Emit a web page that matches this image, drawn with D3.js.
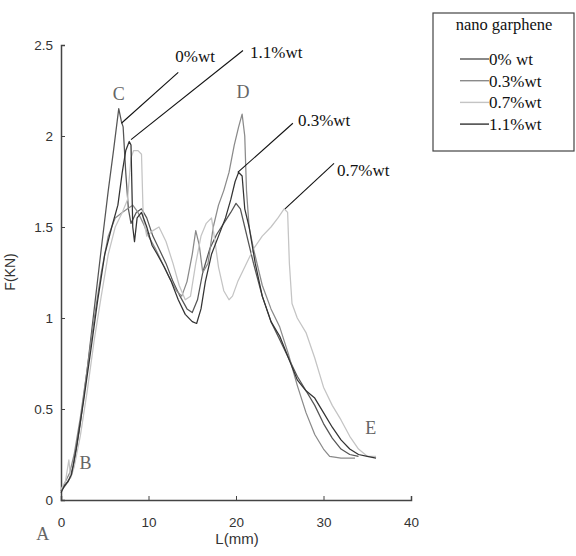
<!DOCTYPE html>
<html><head><meta charset="utf-8">
<script src="https://cdn.jsdelivr.net/npm/d3@7"></script>
<style>body{margin:0;background:#fff;} svg{display:block;}</style>
</head><body>
<script>
const seriesNames = ["0% wt", "0.3%wt", "0.7%wt", "1.1%wt"];
const legendTitle = "nano garphene";
const xTicks = [0, 10, 20, 30, 40];
const yTicks = [0, 0.5, 1, 1.5, 2, 2.5];

const x0 = [0,0.5,1.0,1.5,2.2,3.0,3.8,4.6,5.4,6.0,6.6,6.9,7.1,7.4,7.7,8.0,8.6,9.2,9.8,10.5,11.2,12.0,12.8,13.6,14.4,15.0,15.6,16.2,17.0,17.8,18.6,19.4,20.0,20.5,21.0,22.0,23.0,24.0,25.0,26.0,27.0,28.0,29.0,30.0,31.0,32.0,33.0,34.0];
const y0 = [0.05,0.08,0.12,0.2,0.42,0.72,1.05,1.38,1.7,1.92,2.15,2.08,2.05,1.8,1.6,1.52,1.58,1.6,1.55,1.45,1.38,1.3,1.2,1.12,1.05,1.03,1.1,1.25,1.38,1.46,1.52,1.58,1.63,1.6,1.5,1.3,1.12,0.98,0.88,0.78,0.68,0.6,0.52,0.42,0.34,0.28,0.25,0.24];

const x03 = [0,0.5,1.0,1.5,2.2,3.0,3.8,4.6,5.4,6.2,7.0,7.6,8.2,8.8,9.4,10.0,10.8,11.6,12.4,13.2,13.8,14.4,15.0,15.4,15.8,16.2,16.8,17.4,18.0,18.6,19.2,19.8,20.3,20.7,21.0,21.2,21.5,22.0,23.0,24.0,25.0,26.0,27.0,28.0,29.0,30.0,30.7,32.0,33.6];
const y03 = [0.05,0.1,0.15,0.25,0.45,0.72,1.0,1.25,1.45,1.55,1.58,1.6,1.62,1.58,1.52,1.45,1.38,1.3,1.22,1.15,1.12,1.2,1.35,1.48,1.4,1.25,1.3,1.5,1.62,1.7,1.8,1.95,2.05,2.12,2.0,1.7,1.5,1.38,1.18,1.05,0.95,0.8,0.63,0.48,0.36,0.28,0.24,0.23,0.23];

const x07 = [0,0.5,0.9,1.1,1.5,2.2,3.0,3.8,4.6,5.4,6.2,7.0,7.6,8.0,8.3,8.8,9.2,9.4,9.8,10.5,11.2,12.0,12.8,13.5,14.2,14.8,15.4,16.0,16.6,17.2,17.6,18.0,18.6,19.2,19.6,20.2,21.0,22.0,23.0,24.0,24.8,25.5,25.9,26.1,26.4,27.0,28.0,29.0,30.0,31.0,32.0,33.0,34.0,35.0,36.0];
const y07 = [0.06,0.1,0.22,0.12,0.18,0.35,0.6,0.88,1.12,1.35,1.5,1.58,1.65,1.88,1.92,1.92,1.9,1.55,1.45,1.48,1.5,1.42,1.3,1.18,1.1,1.12,1.3,1.45,1.52,1.55,1.42,1.28,1.15,1.1,1.12,1.2,1.28,1.38,1.45,1.5,1.55,1.6,1.58,1.3,1.08,1.0,0.92,0.78,0.62,0.52,0.44,0.35,0.28,0.24,0.24];

const x11 = [0,0.4,0.8,1.2,1.8,2.6,3.4,4.2,5.0,5.8,6.5,7.0,7.4,7.8,8.0,8.2,8.4,8.7,9.2,9.8,10.4,11.0,11.8,12.6,13.4,14.2,15.0,15.5,16.0,16.5,17.2,18.0,18.8,19.4,19.9,20.3,20.7,21.0,21.5,22.2,23.0,24.0,25.0,26.0,27.0,28.0,29.0,30.0,31.0,32.0,33.0,34.0,35.0,36.0];
const y11 = [0.04,0.08,0.1,0.14,0.3,0.55,0.82,1.1,1.35,1.5,1.62,1.8,1.92,1.97,1.95,1.5,1.42,1.55,1.58,1.5,1.4,1.35,1.28,1.2,1.1,1.02,0.98,0.97,1.05,1.2,1.35,1.45,1.55,1.65,1.75,1.8,1.78,1.6,1.5,1.3,1.12,0.98,0.9,0.78,0.66,0.6,0.56,0.48,0.4,0.33,0.28,0.25,0.24,0.23];

const seriesX = [x0, x03, x07, x11];
const seriesY = [y0, y03, y07, y11];
const colors = ["#555", "#8a8a8a", "#c4c4c4", "#333"];

// annotations: label, point on curve, end of leader line (data units)
const annLabels = ["0%wt", "1.1%wt", "0.3%wt", "0.7%wt"];
const annFrom = [[6.9,2.07],[8.0,1.98],[20.2,1.8],[25.6,1.6]];
const annTo = [[13.4,2.35],[20.8,2.47],[26.5,2.07],[31.2,1.85]];
const annOffset = [[-3,-10],[7,8],[5,3],[3,13]];
const letters = ["A","B","C","D","E"];
const letterPos = [[-2.1,-0.22],[2.8,0.17],[6.6,2.2],[20.8,2.21],[35.4,0.36]];

const W = 576, H = 556;
const svg = d3.select("body").append("svg").attr("width", W).attr("height", H);
const xs = d3.scaleLinear().domain([0, 40]).range([61, 411]);
const ys = d3.scaleLinear().domain([0, 2.5]).range([500, 45]);

// axes
const xAxis = d3.axisBottom(xs).tickValues(xTicks).tickSizeInner(-4).tickSizeOuter(-4).tickPadding(17).tickFormat(d3.format("d"));
const yAxis = d3.axisLeft(ys).tickValues(yTicks).tickSizeInner(-4).tickSizeOuter(-4).tickPadding(8).tickFormat(d => d);
const gx = svg.append("g").attr("transform", "translate(0,500)").call(xAxis);
const gy = svg.append("g").attr("transform", "translate(61,0)").call(yAxis);
[gx, gy].forEach(g => {
  g.select(".domain").attr("stroke", "#444").attr("stroke-width", 1.5);
  g.selectAll(".tick line").attr("stroke", "#444");
  g.selectAll(".tick text").attr("fill", "#333").attr("font-family", "Liberation Sans, Arial, sans-serif").attr("font-size", 13.5);
});

svg.append("text").attr("x", 237).attr("y", 544).attr("text-anchor", "middle")
  .attr("font-family", "Liberation Sans, Arial, sans-serif").attr("font-size", 15).attr("fill", "#333").text("L(mm)");
svg.append("text").attr("transform", "translate(15,272) rotate(-90)").attr("text-anchor", "middle")
  .attr("font-family", "Liberation Sans, Arial, sans-serif").attr("font-size", 14).attr("fill", "#333").text("F(KN)");

// curves
const line = d3.line().x(d => xs(d[0])).y(d => ys(d[1]));
seriesX.forEach((xa, i) => {
  const pts = xa.map((v, j) => [v, seriesY[i][j]]);
  svg.append("path").datum(pts).attr("d", line).attr("fill", "none")
    .attr("stroke", colors[i]).attr("stroke-width", 1.25).attr("stroke-linejoin", "round");
});

// annotations
const serif = "Liberation Serif, Times New Roman, serif";
annLabels.forEach((lab, i) => {
  svg.append("line").attr("x1", xs(annFrom[i][0])).attr("y1", ys(annFrom[i][1]))
    .attr("x2", xs(annTo[i][0])).attr("y2", ys(annTo[i][1])).attr("stroke", "#111").attr("stroke-width", 1.1);
  svg.append("text").attr("x", xs(annTo[i][0]) + annOffset[i][0]).attr("y", ys(annTo[i][1]) + annOffset[i][1])
    .attr("font-family", serif).attr("font-size", 17).attr("fill", "#111").text(lab);
});
letters.forEach((l, i) => {
  svg.append("text").attr("x", xs(letterPos[i][0])).attr("y", ys(letterPos[i][1])).attr("text-anchor", "middle")
    .attr("font-family", serif).attr("font-size", 18).attr("fill", "#666").text(l);
});

// legend
const lg = svg.append("g");
lg.append("rect").attr("x", 433).attr("y", 13).attr("width", 141).attr("height", 138)
  .attr("fill", "#fff").attr("stroke", "#444").attr("stroke-width", 1.2);
lg.append("text").attr("x", 504).attr("y", 30).attr("text-anchor", "middle")
  .attr("font-family", serif).attr("font-size", 16.5).attr("fill", "#111").text(legendTitle);
seriesNames.forEach((n, i) => {
  const yy = 59 + i * 21.7;
  lg.append("line").attr("x1", 460).attr("x2", 489).attr("y1", yy).attr("y2", yy)
    .attr("stroke", colors[i]).attr("stroke-width", 1.4);
  lg.append("text").attr("x", 489).attr("y", yy + 6).attr("font-family", serif).attr("font-size", 17)
    .attr("fill", "#111").text(n);
});
</script>
</body></html>
